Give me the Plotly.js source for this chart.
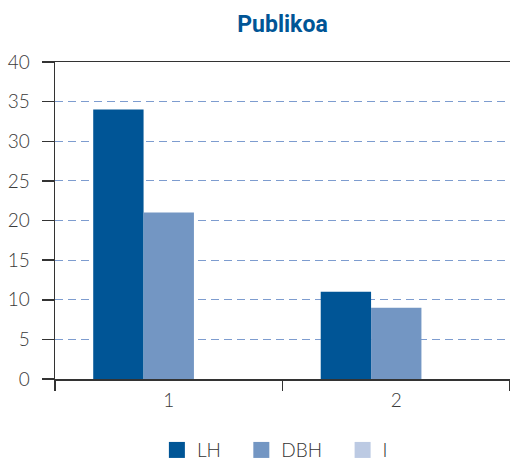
<!DOCTYPE html>
<html>
<head>
<meta charset="utf-8">
<script src="https://cdn.plot.ly/plotly-3.0.1.min.js"></script>
<style>
  html, body { margin: 0; padding: 0; background: #fff; }
  #plot { width: 510px; height: 464px; }
</style>
</head>
<body>
<div id="plot"></div>
<script>
// Data
var categories = ["1", "2"];
var seriesNames = ["LH", "DBH", "I"];
var lhValues = [34, 11];
var dbhValues = [21, 9];
var iValues = [0, 0];
var colors = ["#005596", "#7396c3", "#bccae3"];

var seriesValues = [lhValues, dbhValues, iValues];

// bars (legend drawn by square-marker proxies below, to get bigger swatches)
var bars = seriesValues.map(function (vals, i) {
  return {
    x: categories,
    y: vals,
    type: "bar",
    name: seriesNames[i],
    showlegend: false,
    marker: { color: colors[i], line: { width: 0 } }
  };
});

// trailing nbsp just to widen the gaps between legend entries
var legendProxies = seriesNames.map(function (name, i) {
  return {
    x: [null],
    y: [null],
    type: "scatter",
    mode: "markers",
    name: i < 2 ? name + "\u00a0\u00a0\u00a0" : name,
    marker: { symbol: "square", size: 16, color: colors[i] }
  };
});

var data = bars.concat(legendProxies);

var tickFont = { family: "Lato, Liberation Sans, sans-serif", weight: 300, size: 19, color: "#3a3a3a" };

var layout = {
  width: 510,
  height: 464,
  margin: { l: 55, r: 0, t: 62, b: 85 },
  paper_bgcolor: "#fff",
  plot_bgcolor: "#fff",
  title: {
    text: "<b>Publikoa</b>",
    font: { family: "Roboto, Liberation Sans, sans-serif", size: 23, color: "#005596" },
    xref: "paper",
    x: 0.5,
    xanchor: "center",
    y: 0.948,
    yanchor: "middle"
  },
  barmode: "group",
  bargap: 0.336,
  bargroupgap: 0,
  showlegend: true,
  legend: {
    orientation: "h",
    xref: "container",
    yref: "container",
    x: 0.539,
    xanchor: "center",
    y: 0.03,
    yanchor: "middle",
    font: { family: "Lato, Liberation Sans, sans-serif", weight: 300, size: 19, color: "#333" },
    itemwidth: 30,
    traceorder: "normal"
  },
  xaxis: {
    type: "category",
    showline: true,
    linecolor: "#333",
    linewidth: 1.5,
    mirror: true,
    ticks: "outside",
    tickson: "boundaries",
    ticklen: 10,
    tickcolor: "#333",
    tickwidth: 1.5,
    ticklabelstandoff: 4,
    showgrid: false,
    tickfont: tickFont,
    range: [-0.5, 1.5]
  },
  yaxis: {
    range: [0, 40],
    tickvals: [0, 5, 10, 15, 20, 25, 30, 35, 40],
    showline: true,
    linecolor: "#333",
    linewidth: 1.5,
    ticks: "outside",
    ticklen: 12,
    tickcolor: "#333",
    tickwidth: 1.5,
    ticklabelstandoff: 8,
    tickfont: tickFont,
    showgrid: true,
    gridcolor: "#7d9ccf",
    gridwidth: 1,
    griddash: "8px,5px",
    zeroline: false
  }
};

Plotly.newPlot("plot", data, layout, { displayModeBar: false, staticPlot: true });
</script>
</body>
</html>
